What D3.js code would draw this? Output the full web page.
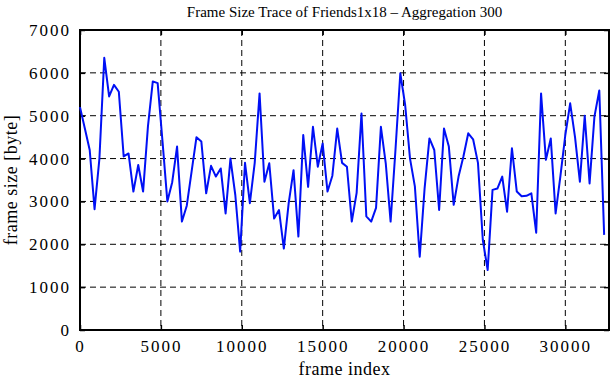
<!DOCTYPE html>
<html>
<head>
<meta charset="utf-8">
<script src="https://cdn.jsdelivr.net/npm/d3@7"></script>
<style>
  body { margin: 0; background: #fff; }
  text { font-family: "Liberation Serif", "DejaVu Serif", serif; fill: #000; }
</style>
</head>
<body>
<div id="chart"></div>
<script>
const title = "Frame Size Trace of Friends1x18 \u2013 Aggregation 300";
const aggregation = 300;
// average frame size per aggregation window (one value per 300 frames)
const frameSize = [
  5200, 4700, 4200, 2820, 4000, 6350, 5450, 5720, 5560, 4050,
  4120, 3230, 3850, 3230, 4750, 5800, 5760, 4400, 3000, 3450,
  4280, 2530, 2900, 3700, 4500, 4400, 3190, 3830, 3580, 3770,
  2720, 4000, 3150, 1830, 3900, 2960, 3900, 5520, 3460, 3890,
  2600, 2800, 1900, 2960, 3730, 2180, 4550, 3340, 4740, 3810,
  4350, 3230, 3600, 4700, 3900, 3810, 2530, 3200, 5050, 2650,
  2530, 2850, 4740, 3890, 2530, 4200, 5990, 5250, 4000, 3350,
  1710, 3300, 4470, 4200, 2800, 4700, 4280, 2920, 3580, 4050,
  4590, 4450, 3900, 2100, 1400, 3270, 3300, 3580, 2760, 4240,
  3230, 3120, 3130, 3190, 2270, 5520, 3970, 4470, 2720, 3600,
  4550, 5290, 4500, 3460, 5000, 3420, 4980, 5590, 2220
];
const xTicks = [0, 5000, 10000, 15000, 20000, 25000, 30000];
const yTicks = [0, 1000, 2000, 3000, 4000, 5000, 6000, 7000];
const xMax = 32700;

const width = 611, height = 380;
const margin = { top: 30, right: 2, bottom: 50, left: 80 };
const iw = width - margin.left - margin.right;
const ih = height - margin.top - margin.bottom;

const svg = d3.select("#chart").append("svg")
  .attr("width", width)
  .attr("height", height);

const g = svg.append("g").attr("transform", `translate(${margin.left},${margin.top})`);

const x = d3.scaleLinear().domain([0, xMax]).range([0, iw]);
const y = d3.scaleLinear().domain([0, 7000]).range([ih, 0]);

// grid
g.selectAll("line.gx")
  .data(xTicks.slice(1))
  .enter().append("line")
  .attr("x1", d => x(d)).attr("x2", d => x(d))
  .attr("y1", 0).attr("y2", ih)
  .style("stroke", "#000").style("stroke-width", 1)
  .style("stroke-dasharray", "6,4");

g.selectAll("line.gy")
  .data(yTicks.slice(1, -1))
  .enter().append("line")
  .attr("x1", 0).attr("x2", iw)
  .attr("y1", d => y(d)).attr("y2", d => y(d))
  .style("stroke", "#000").style("stroke-width", 1)
  .style("stroke-dasharray", "6,4");

// axes with inward ticks
const fmt = d3.format("d");
g.append("g").attr("transform", `translate(0,${ih})`)
  .call(d3.axisBottom(x).tickValues(xTicks).tickFormat(fmt).tickSizeInner(-5).tickSizeOuter(0).tickPadding(10));
g.append("g")
  .call(d3.axisLeft(y).tickValues(yTicks).tickFormat(fmt).tickSizeInner(-5).tickSizeOuter(0).tickPadding(9));
g.append("g")
  .call(d3.axisTop(x).tickValues(xTicks).tickFormat("").tickSizeInner(-5).tickSizeOuter(0));
g.append("g").attr("transform", `translate(${iw},0)`)
  .call(d3.axisRight(y).tickValues(yTicks).tickFormat("").tickSizeInner(-5).tickSizeOuter(0));

g.selectAll(".domain").remove();
g.selectAll(".tick line").style("stroke", "#000").style("stroke-width", 1.5);
g.selectAll(".tick text")
  .style("font-size", "17px")
  .style("letter-spacing", "2px")
  .style("font-family", "'Liberation Serif', serif");

// frame
g.append("rect")
  .attr("width", iw).attr("height", ih)
  .style("fill", "none").style("stroke", "#000").style("stroke-width", 2);

// trace
const line = d3.line()
  .x((d, i) => x(i * aggregation))
  .y(d => y(d));

g.append("path")
  .datum(frameSize)
  .attr("d", line)
  .style("fill", "none")
  .style("stroke", "#0010f5")
  .style("stroke-width", 2)
  .style("stroke-linejoin", "round");

// labels
svg.append("text")
  .attr("x", margin.left + iw / 2).attr("y", 17)
  .attr("text-anchor", "middle")
  .style("font-size", "15px")
  .text(title);

svg.append("text")
  .attr("x", margin.left + iw / 2).attr("y", 375)
  .attr("text-anchor", "middle")
  .style("font-size", "18px")
  .style("letter-spacing", "0.5px")
  .text("frame index");

svg.append("text")
  .attr("transform", `translate(17,${margin.top + ih / 2}) rotate(-90)`)
  .attr("text-anchor", "middle")
  .style("font-size", "18px")
  .style("letter-spacing", "0.5px")
  .text("frame size [byte]");
</script>
</body>
</html>
